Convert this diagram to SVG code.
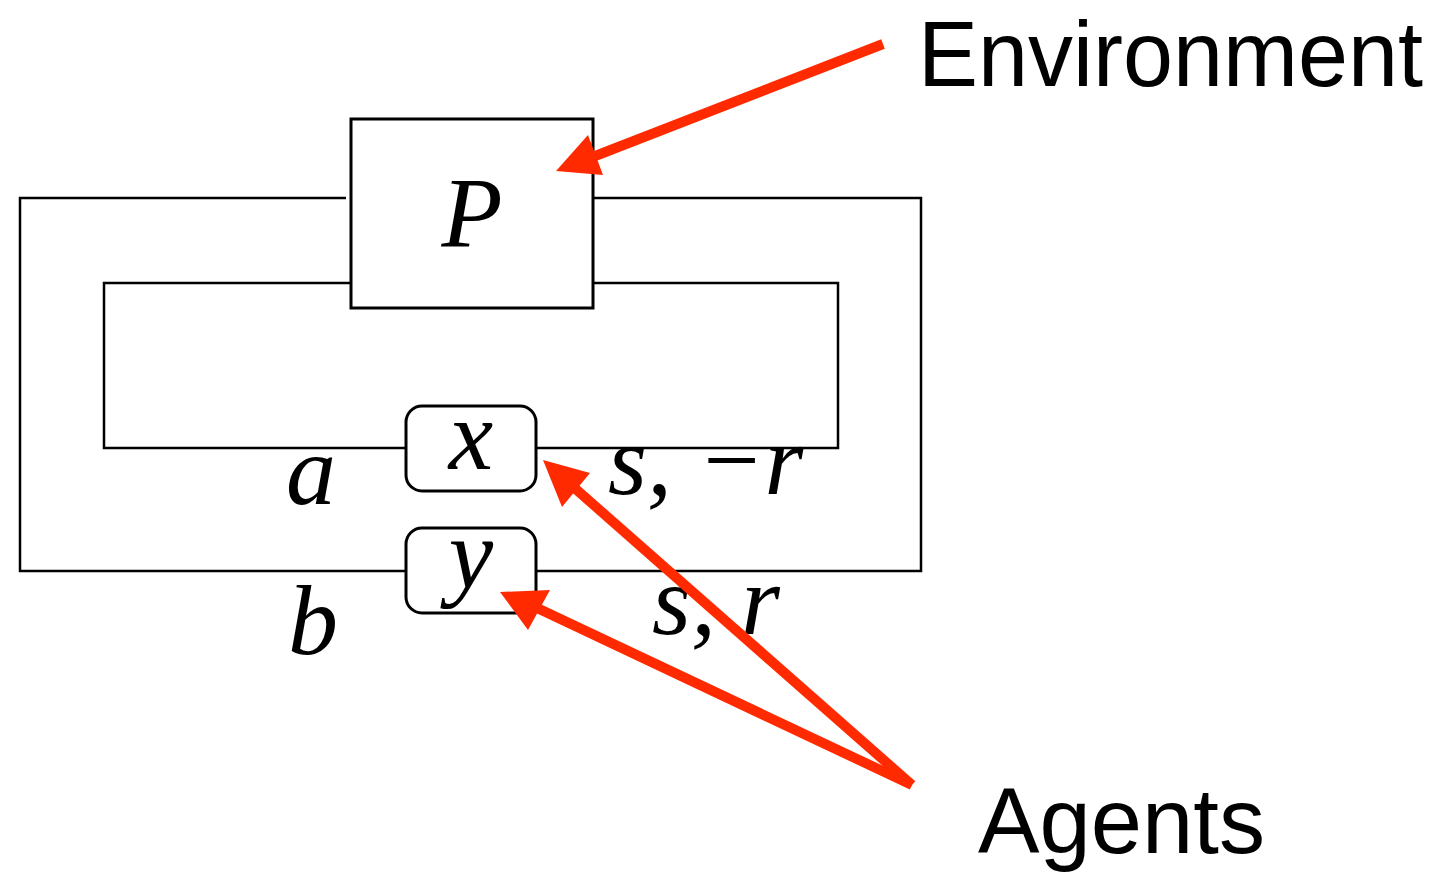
<svg xmlns="http://www.w3.org/2000/svg" width="1445" height="872" viewBox="0 0 1445 872">
<style>
.w{fill:none;stroke:#000;stroke-width:2.5}
.box{fill:#fff;stroke:#000;stroke-width:3}
.m{font-family:"Liberation Serif",serif;font-style:italic;font-size:100px;fill:#000}
.lab{font-family:"Liberation Sans",Arial,sans-serif;font-size:92px;fill:#000}
.ar{stroke:#ff2a00;stroke-width:10;fill:none}
.ah{fill:#ff2a00}
</style>
<rect width="1445" height="872" fill="#fff"/>
<g id="connectors">
<path class="w" d="M346,198 H20 V571 H406"/>
<path class="w" d="M593,198 H921 V571 H536"/>
<path class="w" d="M351,283 H104 V448 H406"/>
<path class="w" d="M593,283 H838 V448 H536"/>
</g>
<g id="P"><rect class="box" x="351" y="119" width="242" height="189"/><text class="m" x="472" y="246" text-anchor="middle">P</text></g>
<g id="x"><rect class="box" x="406" y="406" width="130" height="85" rx="16"/><text class="m" x="471" y="469" text-anchor="middle">x</text></g>
<g id="y"><rect class="box" x="406" y="528" width="130" height="85" rx="16"/><text class="m" x="471" y="588" text-anchor="middle">y</text></g>
<g id="labels">
<text class="m" x="286" y="504">a</text>
<text class="m" x="288" y="654">b</text>
<text class="m" x="608" y="494">s, −r</text>
<text class="m" x="652" y="634">s, r</text>
</g>
<g id="arrows">
<line class="ar" x1="883" y1="44" x2="590" y2="158"/>
<polygon class="ah" points="556,171 588,135 603,175"/>
<line class="ar" x1="912" y1="785" x2="570" y2="484"/>
<polygon class="ah" points="543,460 590,473 562,507"/>
<line class="ar" x1="912" y1="785" x2="535" y2="607"/>
<polygon class="ah" points="500,592 550,590 528,630"/>
</g>
<g id="Environment"><text class="lab" x="918" y="86" textLength="505" lengthAdjust="spacingAndGlyphs">Environment</text></g>
<g id="Agents"><text class="lab" x="978" y="853" textLength="287" lengthAdjust="spacingAndGlyphs">Agents</text></g>
</svg>
